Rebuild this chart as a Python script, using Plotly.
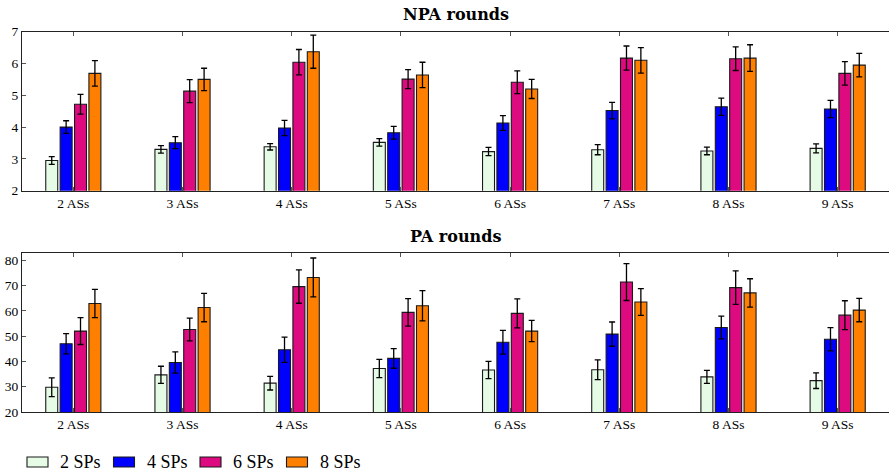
import plotly.graph_objects as go

# Category labels and series names
categories = ["2 ASs", "3 ASs", "4 ASs", "5 ASs", "6 ASs", "7 ASs", "8 ASs", "9 ASs"]
series_names = ["2 SPs", "4 SPs", "6 SPs", "8 SPs"]
series_colors = ["#e6fbe6", "#0000ff", "#de0a80", "#ff8000"]

# NPA rounds: means and error half-widths per series
npa_2sp = [2.95, 3.30, 3.38, 3.52, 3.23, 3.29, 3.25, 3.33]
npa_4sp = [4.00, 3.51, 3.97, 3.82, 4.13, 4.52, 4.64, 4.57]
npa_6sp = [4.72, 5.13, 6.04, 5.51, 5.41, 6.17, 6.15, 5.69]
npa_8sp = [5.69, 5.50, 6.37, 5.64, 5.20, 6.10, 6.17, 5.95]
npa_2sp_err = [0.12, 0.12, 0.10, 0.12, 0.13, 0.16, 0.12, 0.14]
npa_4sp_err = [0.20, 0.19, 0.24, 0.20, 0.23, 0.26, 0.27, 0.27]
npa_6sp_err = [0.31, 0.36, 0.40, 0.30, 0.36, 0.38, 0.37, 0.37]
npa_8sp_err = [0.40, 0.35, 0.52, 0.40, 0.30, 0.40, 0.42, 0.37]

# PA rounds: means and error half-widths per series
pa_2sp = [29.8, 34.7, 31.4, 37.2, 36.6, 36.7, 33.9, 32.4]
pa_4sp = [47.0, 39.6, 44.6, 41.2, 47.6, 50.8, 53.4, 48.8]
pa_6sp = [52.0, 52.6, 69.6, 59.4, 59.0, 71.4, 69.2, 58.3]
pa_8sp = [62.9, 61.3, 73.2, 62.0, 52.0, 63.5, 67.1, 60.3]
pa_2sp_err = [3.7, 3.4, 2.7, 3.6, 3.4, 3.9, 2.6, 3.1]
pa_4sp_err = [4.0, 4.2, 5.0, 3.9, 4.7, 4.8, 4.5, 4.6]
pa_6sp_err = [5.3, 4.5, 6.6, 5.4, 5.7, 7.3, 6.6, 5.7]
pa_8sp_err = [5.6, 5.6, 7.7, 6.0, 4.2, 5.3, 5.6, 4.6]

npa_values = [npa_2sp, npa_4sp, npa_6sp, npa_8sp]
npa_errors = [npa_2sp_err, npa_4sp_err, npa_6sp_err, npa_8sp_err]
pa_values = [pa_2sp, pa_4sp, pa_6sp, pa_8sp]
pa_errors = [pa_2sp_err, pa_4sp_err, pa_6sp_err, pa_8sp_err]

FONT = "Liberation Serif"
TITLE_FONT = "DejaVu Serif"
W, H = 889, 475

fig = go.Figure()

panels = [
    ("x", "y", npa_values, npa_errors),
    ("x2", "y2", pa_values, pa_errors),
]
for xa, ya, vals, errs in panels:
    for name, color, v, e in zip(series_names, series_colors, vals, errs):
        fig.add_trace(go.Bar(
            x=categories, y=v, name=name, xaxis=xa, yaxis=ya,
            marker=dict(color=color, line=dict(color="#1a1a1a", width=1.1)),
            error_y=dict(type="data", array=e, visible=True,
                         color="black", thickness=1.3, width=3),
            showlegend=False,
        ))


def px_to_paper(y_px):
    return 1 - y_px / H


x_range = [-0.47, 7.47]
tickfont = dict(family=FONT, size=13.5, color="black")

common_x = dict(
    type="category", range=x_range, showline=True, linecolor="#222",
    linewidth=1, mirror="ticks", ticks="inside", ticklen=4,
    tickcolor="#555", tickfont=tickfont, showgrid=False, zeroline=False,
)
common_y = dict(
    showline=True, linecolor="#222", linewidth=1, ticks="inside",
    ticklen=4, tickcolor="#555", tickfont=tickfont, showgrid=False,
    zeroline=False, automargin=False,
)

top_dom = [px_to_paper(190.7), px_to_paper(31.7)]
bot_dom = [px_to_paper(412.0), px_to_paper(252.7)]

fig.update_layout(
    width=W, height=H,
    margin=dict(l=22, r=0, t=0, b=0),
    paper_bgcolor="white", plot_bgcolor="white",
    barmode="group", bargap=0.473, bargroupgap=0.167,
    showlegend=False,
    xaxis=dict(common_x, anchor="y", domain=[0, 1]),
    xaxis2=dict(common_x, anchor="y2", domain=[0, 1]),
    yaxis=dict(common_y, anchor="x", domain=top_dom, range=[2, 7], dtick=1),
    yaxis2=dict(common_y, anchor="x2", domain=bot_dom, range=[20, 83],
                tickvals=[20, 30, 40, 50, 60, 70, 80]),
    # tick marks on the right edge of each panel
    yaxis3=dict(overlaying="y", side="right", anchor="x", range=[2, 7], dtick=1,
                showline=False, ticks="inside", ticklen=4, tickcolor="#555",
                showticklabels=False, showgrid=False, zeroline=False),
    yaxis4=dict(overlaying="y2", side="right", anchor="x2", range=[20, 83],
                tickvals=[20, 30, 40, 50, 60, 70, 80],
                showline=False, ticks="inside", ticklen=4, tickcolor="#555",
                showticklabels=False, showgrid=False, zeroline=False),
)

# Panel titles
title_font = dict(family=TITLE_FONT, size=16, color="black")
for text, ypx in [("<b>NPA rounds</b>", 15), ("<b>PA rounds</b>", 237)]:
    fig.add_annotation(text=text, xref="paper", yref="paper",
                       x=0.5, y=px_to_paper(ypx), showarrow=False,
                       xanchor="center", yanchor="middle", font=title_font)

# Legend row under the lower panel
legend_y = 462
for i, (name, color) in enumerate(zip(series_names, series_colors)):
    x0 = 27 + i * 86.5
    fig.add_shape(type="rect", xref="paper", yref="paper",
                  x0=(x0 - 22) / (W - 22), x1=(x0 + 21 - 22) / (W - 22),
                  y0=px_to_paper(legend_y + 5), y1=px_to_paper(legend_y - 5),
                  fillcolor=color, line=dict(color="#1a1a1a", width=1.1))
    fig.add_annotation(text=name, xref="paper", yref="paper",
                       x=(x0 + 31 - 22) / (W - 22), y=px_to_paper(legend_y),
                       showarrow=False, xanchor="left", yanchor="middle",
                       font=dict(family=FONT, size=18, color="black"))

fig.write_html("out.html")
